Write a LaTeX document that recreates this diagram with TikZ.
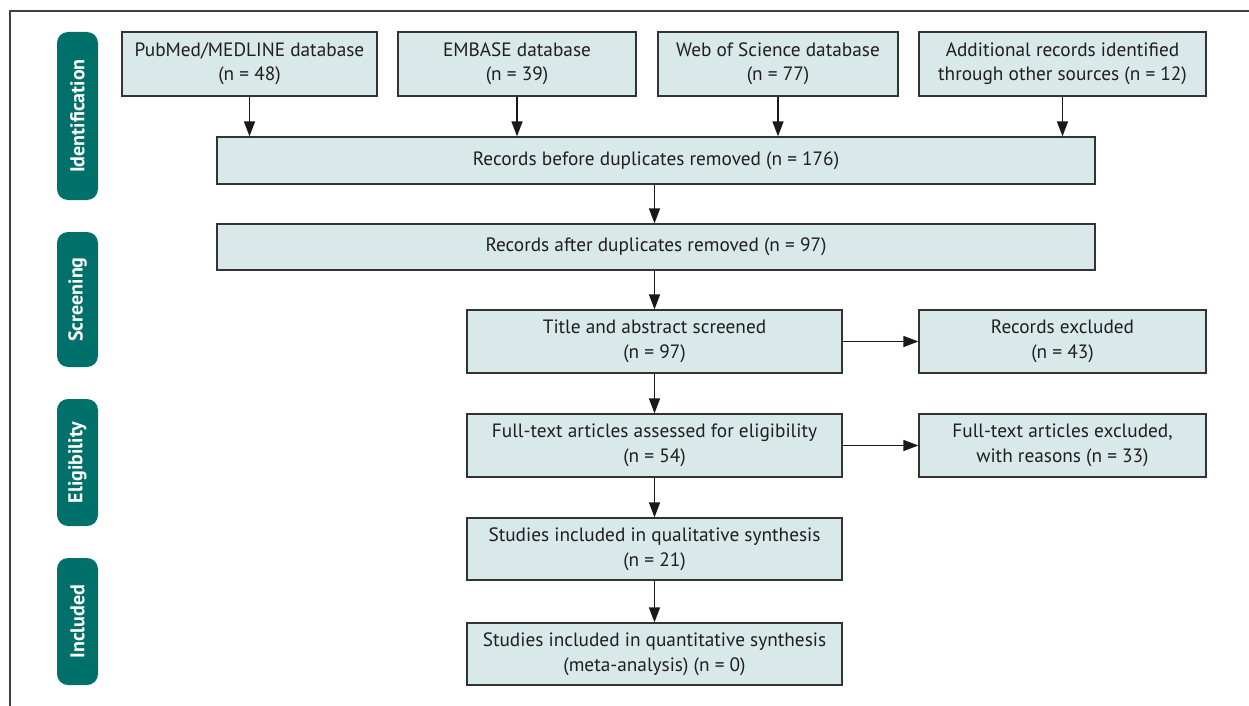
\documentclass[tikz,border=0pt]{standalone}
\usepackage{fontspec}
\setmainfont{PT Sans}
\usetikzlibrary{arrows.meta}
\definecolor{boxfill}{HTML}{D9E8E8}
\definecolor{boxline}{HTML}{333333}
\definecolor{teal}{HTML}{00706A}
\tikzset{
  x=1pt, y=-1pt,
  box/.style={draw=boxline, fill=boxfill, line width=1.3pt, align=center,
    inner sep=0pt, font=\fontsize{19.3}{24.5}\selectfont, text=black!88},
  stage/.style={fill=teal, rounded corners=11pt, minimum width=41pt,
    inner sep=0pt, text=white, font=\bfseries\fontsize{20}{22}\selectfont},
  arr/.style={-{Triangle[length=15pt,width=11pt]}, line width=1.5pt, draw=black!90},
}
\begin{document}
\begin{tikzpicture}
\useasboundingbox (0,0) rectangle (1249,706);
\draw[line width=1.2pt, black!75] (10,706) -- (10,11) -- (1249,11);

% stage labels
\node[stage, minimum height=168pt] (s1) at (77.5,116) {\rotatebox{90}{Identification}};
\node[stage, minimum height=135pt] (s2) at (77.5,299.5) {\rotatebox{90}{Screening}};
\node[stage, minimum height=127pt] (s3) at (77.5,462.5) {\rotatebox{90}{Eligibility}};
\node[stage, minimum height=127pt] (s4) at (77.5,621.5) {\rotatebox{90}{Included}};

% top sources
\node[box, minimum width=255pt, minimum height=64pt] (pub) at (249.5,64) {PubMed/MEDLINE database\\(n = 48)};
\node[box, minimum width=238pt, minimum height=64pt] (emb) at (517,64) {EMBASE database\\(n = 39)};
\node[box, minimum width=240pt, minimum height=64pt] (wos) at (778,64) {Web of Science database\\(n = 77)};
\node[box, minimum width=287pt, minimum height=64pt] (add) at (1062.5,64) {Additional records identified\\through other sources (n = 12)};

\node[box, minimum width=878pt, minimum height=47pt] (before) at (656,160.5) {Records before duplicates removed (n = 176)};
\node[box, minimum width=878pt, minimum height=46pt] (after) at (656,247) {Records after duplicates removed (n = 97)};

\node[box, minimum width=375pt, minimum height=63pt] (title) at (654.5,341.5) {Title and abstract screened\\(n = 97)};
\node[box, minimum width=287pt, minimum height=63pt] (excl) at (1062.5,341.5) {Records excluded\\(n = 43)};
\node[box, minimum width=375pt, minimum height=63pt] (full) at (654.5,445.5) {Full-text articles assessed for eligibility\\(n = 54)};
\node[box, minimum width=287pt, minimum height=63pt] (fexcl) at (1062.5,445.5) {Full-text articles excluded,\\with reasons (n = 33)};
\node[box, minimum width=375pt, minimum height=62pt] (qual) at (654.5,549) {Studies included in qualitative synthesis\\(n = 21)};
\node[box, minimum width=375pt, minimum height=62pt] (quant) at (654.5,654) {Studies included in quantitative synthesis\\(meta-analysis) (n = 0)};

% arrows
\draw[arr] (pub.south) -- (pub.south |- before.north);
\draw[arr] (emb.south) -- (emb.south |- before.north);
\draw[arr] (wos.south) -- (wos.south |- before.north);
\draw[arr] (add.south) -- (add.south |- before.north);
\draw[arr] (before.south -| title.north) -- (after.north -| title.north);
\draw[arr] (after.south -| title.north) -- (title.north);
\draw[arr] (title.south) -- (full.north);
\draw[arr] (full.south) -- (qual.north);
\draw[arr] (qual.south) -- (quant.north);
\draw[arr] (title.east) -- (excl.west);
\draw[arr] (full.east) -- (fexcl.west);
\end{tikzpicture}
\end{document}
